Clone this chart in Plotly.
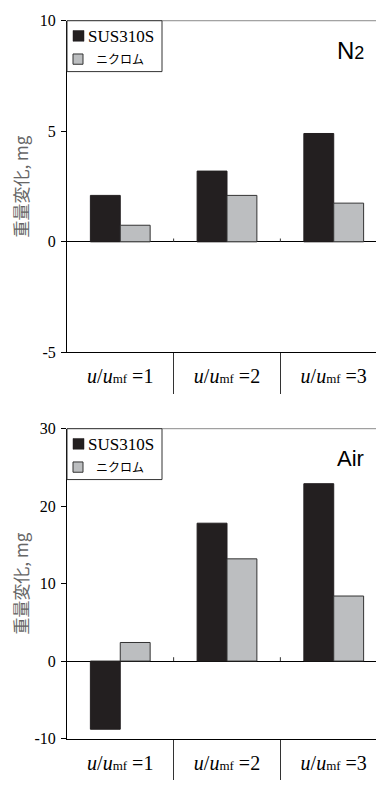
import plotly.graph_objects as go

W, H = 376, 786

# ---------------- data ----------------
categories = ["u/umf =1", "u/umf =2", "u/umf =3"]
cat_labels = [
    "<i>u</i>/<i>u</i><span style='font-size:13px'>mf</span> =1",
    "<i>u</i>/<i>u</i><span style='font-size:13px'>mf</span> =2",
    "<i>u</i>/<i>u</i><span style='font-size:13px'>mf</span> =3",
]
series_names = ["SUS310S", "ニクロム"]
n2_sus = [2.1, 3.2, 4.9]
n2_nichrome = [0.75, 2.1, 1.75]
air_sus = [-8.8, 17.8, 22.9]
air_nichrome = [2.4, 13.2, 8.4]
n2_ticks = [-5, 0, 5, 10]
air_ticks = [-10, 0, 10, 20, 30]
panel_titles = ["N<span style='font-size:18px'>2</span>", "Air"]
y_title = "重量変化, mg"

# ---------------- style ----------------
BLACK = "#231f20"
GREY = "#bcbec0"
SERIF = "Liberation Serif, serif"
SANS = "Liberation Sans, Arial, sans-serif"
CJK = "Noto Sans CJK JP"

def px_x(x):
    return x / W

def px_y(y):
    return 1 - y / H

# plot areas in px
top_panel = dict(top=13, bottom=352)
bot_panel = dict(top=430, bottom=746.7)
x_left = 67

fig = go.Figure()

def add_panel(idx, sus, nich):
    xa = "x" if idx == 1 else "x2"
    ya = "y" if idx == 1 else "y2"
    fig.add_trace(go.Bar(x=categories, y=sus, name=series_names[0], xaxis=xa, yaxis=ya,
                         marker=dict(color=BLACK, line=dict(color=BLACK, width=1)),
                         showlegend=False))
    fig.add_trace(go.Bar(x=categories, y=nich, name=series_names[1], xaxis=xa, yaxis=ya,
                         marker=dict(color=GREY, line=dict(color="#333333", width=1)),
                         showlegend=False))

add_panel(1, n2_sus, n2_nichrome)
add_panel(2, air_sus, air_nichrome)

xaxis_common = dict(
    type="category",
    range=[-0.499, 2.396],
    domain=[px_x(x_left), 1],
    showline=True, linecolor="black", linewidth=1,
    ticks="outside", tickson="boundaries", ticklen=41, tickcolor="#333333", tickwidth=1,
    tickmode="array", tickvals=categories, ticktext=cat_labels,
    tickfont=dict(family=SERIF, size=20, color="black"),
    ticklabelstandoff=6,
    showgrid=False, zeroline=False, fixedrange=True,
)

yaxis_common = dict(
    showline=True, linecolor="black", linewidth=1,
    ticks="outside", ticklen=5, tickcolor="black", tickwidth=1,
    tickfont=dict(family=SERIF, size=16, color="black"),
    ticklabelstandoff=2,
    showgrid=False, zeroline=True, zerolinecolor="black", zerolinewidth=1,
    tickmode="array", fixedrange=True,
)

fig.update_layout(
    width=W, height=H,
    margin=dict(l=0, r=0, t=0, b=0),
    paper_bgcolor="white", plot_bgcolor="white",
    barmode="group", bargap=0.44, bargroupgap=0,
    showlegend=False,
    xaxis=dict(xaxis_common, anchor="y"),
    xaxis2=dict(xaxis_common, anchor="y2", ticklen=40),
    yaxis=dict(yaxis_common, anchor="x", range=[-5, 10],
               domain=[px_y(top_panel["bottom"]), px_y(top_panel["top"])],
               tickvals=n2_ticks, ticktext=[str(v) for v in n2_ticks]),
    yaxis2=dict(yaxis_common, anchor="x2", range=[-10, 30],
                domain=[px_y(bot_panel["bottom"]), px_y(bot_panel["top"])],
                tickvals=air_ticks, ticktext=[str(v) for v in air_ticks]),
)

shapes = []
annotations = []

for i, (panel, title, xr, yr, tickh) in enumerate([
        (top_panel, panel_titles[0], "x", "y", 0.15),
        (bot_panel, panel_titles[1], "x2", "y2", 0.5)]):
    t = panel["top"]
    # top border (grey)
    shapes.append(dict(type="line", xref="paper", yref="paper",
                       x0=px_x(x_left), x1=1, y0=px_y(t), y1=px_y(t),
                       line=dict(color="#8a8a8a", width=1)))
    # small ticks on zero line at category boundaries
    for b in [0.5, 1.5]:
        shapes.append(dict(type="line", xref=xr, yref=yr, x0=b, x1=b, y0=0, y1=tickh,
                           line=dict(color="#333333", width=1)))
    # legend box
    shapes.append(dict(type="rect", xref="paper", yref="paper",
                       x0=px_x(x_left), x1=px_x(162), y0=px_y(t + 52), y1=px_y(t),
                       line=dict(color="#333333", width=1), fillcolor="white", layer="above"))
    shapes.append(dict(type="rect", xref="paper", yref="paper",
                       x0=px_x(73), x1=px_x(84), y0=px_y(t + 21), y1=px_y(t + 10),
                       line=dict(color=BLACK, width=0.5), fillcolor=BLACK, layer="above"))
    shapes.append(dict(type="rect", xref="paper", yref="paper",
                       x0=px_x(73), x1=px_x(83), y0=px_y(t + 44.5), y1=px_y(t + 34),
                       line=dict(color="#333333", width=1), fillcolor=GREY, layer="above"))
    annotations.append(dict(xref="paper", yref="paper", x=px_x(86), y=px_y(t + 16),
                            xanchor="left", yanchor="middle", showarrow=False,
                            text=series_names[0], font=dict(family=SERIF, size=17, color="black")))
    annotations.append(dict(xref="paper", yref="paper", x=px_x(94), y=px_y(t + 39),
                            xanchor="left", yanchor="middle", showarrow=False,
                            text=series_names[1], font=dict(family=CJK, size=12, color="black")))
    # panel label
    annotations.append(dict(xref="paper", yref="paper", x=px_x(366), y=px_y(t + 30),
                            xanchor="right", yanchor="middle", showarrow=False,
                            text=title, font=dict(family=SANS, size=24 if i == 0 else 22, color="black")))
    # y title
    annotations.append(dict(xref="paper", yref="paper", x=px_x(21),
                            y=px_y((panel["top"] + panel["bottom"]) / 2),
                            xanchor="center", yanchor="middle", showarrow=False, textangle=-90,
                            text=y_title, font=dict(family=CJK, size=17, color="#666666")))

fig.update_layout(shapes=shapes, annotations=annotations)

fig.write_html("out.html")
